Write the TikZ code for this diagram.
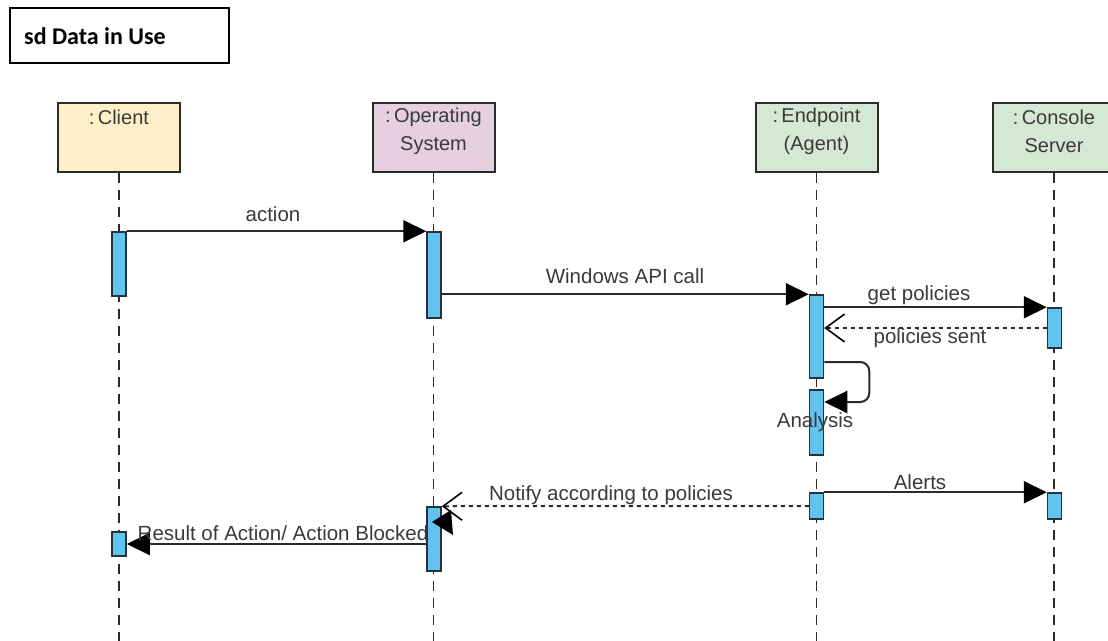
\documentclass[tikz,border=0pt]{standalone}
\usepackage{fontspec}
\setmainfont{Liberation Sans}
\newfontfamily\titlefont{Carlito}
\usetikzlibrary{arrows.meta,calc}
\definecolor{ink}{HTML}{2A2A2A}
\definecolor{txt}{HTML}{3A3A3A}
\definecolor{clientfill}{HTML}{FDF0C8}
\definecolor{osfill}{HTML}{E6D0DF}
\definecolor{agentfill}{HTML}{D5E8D4}
\definecolor{actfill}{HTML}{62C4EE}
\definecolor{actline}{HTML}{24343E}
\tikzset{
  head/.style={draw=ink, line width=2pt, minimum width=122pt, minimum height=69pt, inner sep=0pt},
  htext/.style={text=txt, font=\fontsize{20}{28}\selectfont, align=center, inner sep=0pt},
  life/.style={draw=ink, line width=1.6pt, dash pattern=on 10pt off 7pt},
  act/.style={draw=actline, fill=actfill, line width=1.5pt, minimum width=14pt, inner sep=0pt},
  msg/.style={draw=ink, line width=2pt, -{Triangle[length=23pt,width=22pt,black]}},
  reply/.style={draw=ink, line width=2pt, dash pattern=on 4pt off 4pt,
    -{Straight Barb[length=19pt,width=28pt,line width=1.6pt,black]}},
  mtext/.style={text=txt, font=\fontsize{20.5}{24}\selectfont, inner sep=0pt}
}
\begin{document}
\begin{tikzpicture}[x=1pt,y=-1pt]
\useasboundingbox (0,0) rectangle (1108,640);
\fill[white] (0,0) rectangle (1108,640);

% frame title
\node[draw=black, line width=2pt, minimum width=219pt, minimum height=55pt, inner sep=0pt] (frame) at (119.5,35.5) {};
\node[anchor=west, inner sep=0pt, text=black, font=\titlefont\bfseries\fontsize{24}{26}\selectfont] (frameT) at (24,36) {sd Data in Use};

% lifeline heads
\node[head, fill=clientfill] (client) at (119,137.5) {};
\node[head, fill=osfill] (os) at (433.5,137.5) {};
\node[head, fill=agentfill] (agent) at (816.5,137.5) {};
\node[head, fill=agentfill] (console) at (1054,137.5) {};
\node[htext] (clientT) at (119,117) {:\,Client};
\node[htext] (osT) at (433.5,131) {:\,Operating\\System};
\node[htext] (agentT) at (816.5,131) {:\,Endpoint\\(Agent)};
\node[htext] (consoleT) at (1054,131) {:\,Console\\Server};

% lifelines
\coordinate (clientEnd) at (119,645);
\coordinate (osEnd) at (433.5,645);
\coordinate (agentEnd) at (816.5,645);
\coordinate (consoleEnd) at (1054,645);
\draw[life] (client.south) -- (clientEnd);
\draw[life] (os.south) -- (osEnd);
\draw[life] (agent.south) -- (agentEnd);
\draw[life] (console.south) -- (consoleEnd);

% activation bars
\node[act, minimum height=64pt] (cA1) at (119,264) {};
\node[act, minimum height=86pt] (oA1) at (434,275) {};
\node[act, minimum height=83pt] (eA1) at (816.5,336.5) {};
\node[act, minimum height=40pt] (sA1) at (1054.5,328) {};
\node[act, minimum height=65pt] (eA2) at (816.5,422.5) {};
\node[act, minimum height=26pt] (eA3) at (816.5,506) {};
\node[act, minimum height=26pt] (sA2) at (1054.5,506) {};
\node[act, minimum height=64pt] (oA2) at (434,539) {};
\node[act, minimum height=24pt] (cA2) at (119,544) {};

% messages
\draw[msg] (cA1.north east) -- (oA1.north west);
\draw[msg] (oA1.east |- eA1.north) -- (eA1.north west);
\draw[msg] (eA1.east |- sA1.north) -- (sA1.north west);
\draw[reply] (sA1.west) -- (eA1.east |- sA1.west);
\coordinate (selfStart) at ($(eA1.east)+(0,25.5)$);
\coordinate (selfEnd) at ($(eA2.east)+(0,-20.5)$);
\draw[msg, rounded corners=9pt] (selfStart) -- ++(45,0) |- (selfEnd);
\draw[msg] (eA3.north east) -- (sA2.north west);
\draw[reply] (eA3.west) -- (oA2.north east);
\fill[black] (432,522) -- (451,510) -- (453,535) -- cycle;
\draw[msg] (oA2.west |- cA2.center) -- (cA2.east);

% message labels
\node[mtext] (lAction) at (273,214) {action};
\node[mtext] (lApi) at (625,276) {Windows API call};
\node[mtext] (lGet) at (919,295) {get policies};
\node[mtext] (lSent) at (930,338) {policies sent};
\node[mtext] (lAnalysis) at (815,422) {Analysis};
\node[mtext] (lAlerts) at (920,482) {Alerts};
\node[mtext] (lNotify) at (611,495) {Notify according to policies};
\node[mtext] (lResult) at (283,533) {Result of Action/ Action Blocked};
\end{tikzpicture}
\end{document}
